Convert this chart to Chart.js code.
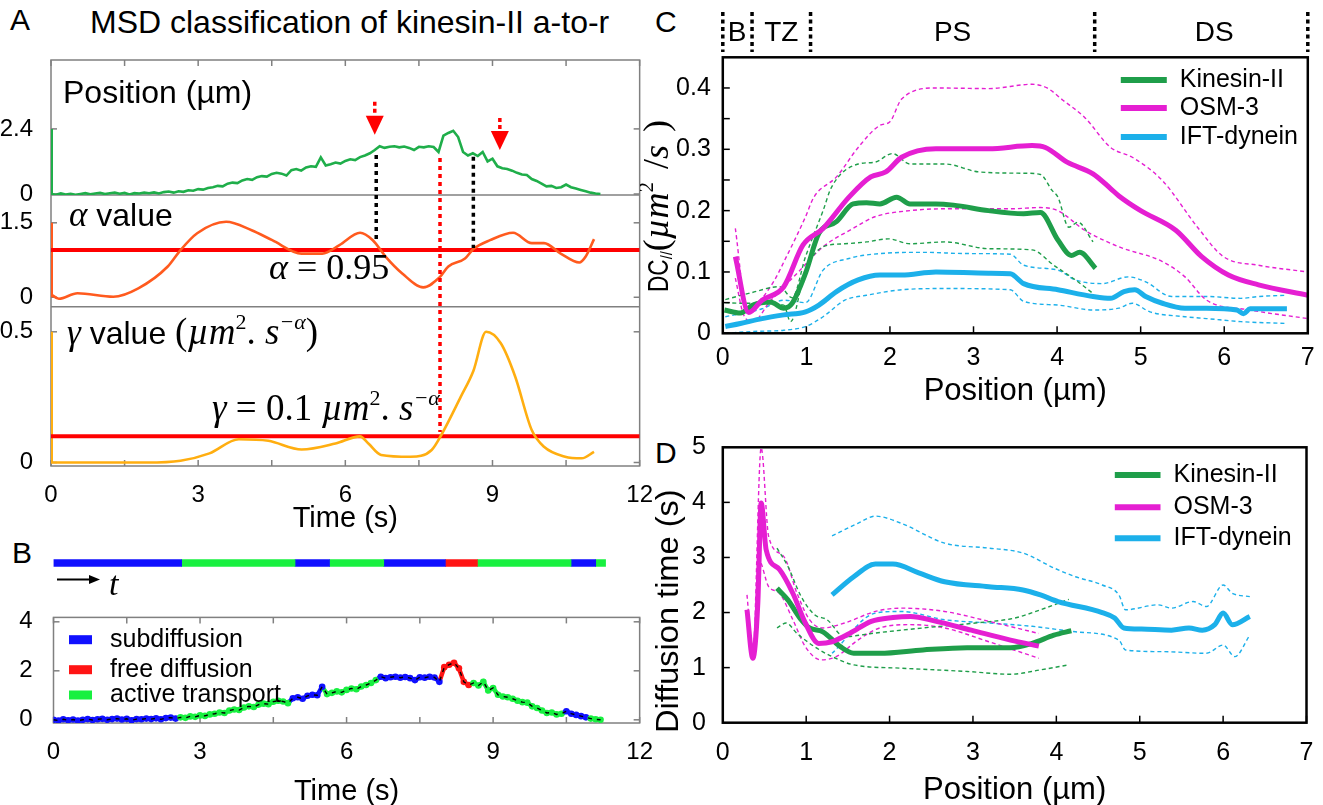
<!DOCTYPE html>
<html>
<head>
<meta charset="utf-8">
<script src="https://cdn.jsdelivr.net/npm/chart.js@4.4.1/dist/chart.umd.min.js"></script>
<style>
  body { margin: 0; background: #fff; width: 1323px; height: 805px; position: relative; overflow: hidden; font-family: "Liberation Sans", Arial, sans-serif; }
  canvas { position: absolute; }
  .lbl { position: absolute; font-size: 30px; line-height: 30px; color: #000; white-space: nowrap; }
</style>
</head>
<body>
<div class="lbl" style="left:10px;top:5px">A</div>
<div class="lbl" style="left:90px;top:6px;font-size:32px;line-height:32px">MSD classification of kinesin-II a-to-r</div>
<div class="lbl" style="left:12px;top:538px">B</div>
<div class="lbl" style="left:655px;top:7px">C</div>
<div class="lbl" style="left:655px;top:438px">D</div>
<canvas id="chartA" width="660" height="540" style="left:0;top:0"></canvas>
<canvas id="chartBBar" width="660" height="50" style="left:0;top:550px"></canvas>
<canvas id="chartB" width="660" height="215" style="left:0;top:590px"></canvas>
<canvas id="chartC" width="683" height="420" style="left:640px;top:0"></canvas>
<canvas id="chartD" width="683" height="385" style="left:640px;top:420px"></canvas>
<script>
const SANS = '"Liberation Sans", Arial, sans-serif';
const SERIF = '"Liberation Serif", "Times New Roman", serif';

// ---------- panel A / B data ----------
// position trace, one sample every 0.1 s from 0 to 11.2 s
const posValues = [
  0.00, -0.03, 0.02, -0.02, 0.01, -0.03, 0.00, 0.03, -0.01, 0.02,
  0.04, 0.00, 0.03, 0.05, 0.01, 0.04, -0.02, 0.03, 0.02, 0.05,
  0.03, 0.06, 0.02, 0.07, 0.09, 0.05, 0.10, 0.08, 0.14, 0.12,
  0.18, 0.16, 0.22, 0.25, 0.30, 0.28, 0.38, 0.42, 0.40, 0.50,
  0.55, 0.52, 0.62, 0.66, 0.64, 0.74, 0.78, 0.75, 0.68, 0.88,
  0.92, 0.86, 0.98, 1.02, 1.00, 1.35, 1.05, 1.10, 1.16, 1.12,
  1.22, 1.28, 1.25, 1.36, 1.42, 1.50, 1.62, 1.76, 1.70, 1.74,
  1.76, 1.72, 1.75, 1.70, 1.62, 1.74, 1.72, 1.76, 1.73, 1.55,
  2.15, 2.25, 2.33, 2.10, 1.55, 1.42, 1.50, 1.40, 1.55, 1.20,
  1.30, 1.02, 0.95, 0.92, 0.86, 0.78, 0.72, 0.70, 0.55, 0.48,
  0.38, 0.28, 0.30, 0.22, 0.25, 0.35, 0.25, 0.20, 0.15, 0.10,
  0.05, 0.02, 0.00
];
const posTimes = posValues.map((v, i) => +(i * 0.1).toFixed(1));

const alphaTimes = [0, 0.16, 0.54, 1.27, 1.78, 2.38, 2.64, 2.98, 3.57, 4.09, 4.51, 5.11, 5.53, 5.88, 6.30, 6.56, 6.82, 7.16, 7.59, 7.93, 8.10, 8.44, 8.61, 8.95, 9.42, 9.80, 10.05, 10.39, 10.77, 10.90, 11.07];
const alphaValues = [0.06, -0.03, 0.08, 0.01, 0.18, 0.62, 0.95, 1.29, 1.52, 1.35, 1.15, 0.88, 0.88, 1.05, 1.30, 1.15, 0.82, 0.48, 0.20, 0.41, 0.62, 0.78, 0.97, 1.15, 1.30, 1.09, 1.09, 0.88, 0.70, 0.82, 1.17];

const gammaTimes = [0, 1.95, 2.64, 3.23, 3.83, 4.43, 5.11, 5.80, 6.30, 6.47, 6.73, 7.33, 7.76, 7.97, 8.35, 8.61, 8.87, 9.17, 9.46, 9.80, 10.05, 10.48, 10.82, 11.07];
const gammaValues = [0.000, 0.000, 0.007, 0.035, 0.089, 0.083, 0.050, 0.073, 0.100, 0.073, 0.029, 0.022, 0.048, 0.110, 0.250, 0.350, 0.500, 0.456, 0.330, 0.124, 0.060, 0.022, 0.016, 0.041];

const alphaThreshold = 0.95;
const gammaThreshold = 0.1;

// annotations in panel A (times in s, values in the units of each sub-plot)
const dropTimes = [6.63, 8.61];
const dropFromPos = [1.44, 1.37];
const dropToAlpha = [1.12, 0.99];
const switchTime = 7.93, switchFromPos = 1.33, switchToGamma = 0.117;
const arrowTimes = [6.6, 9.15];
const arrowTops = [3.4, 2.8];
const arrowTips = [2.18, 1.62];

const timeTicks = [0, 1.5, 3, 4.5, 6, 7.5, 9, 10.5, 12];
const timeLabels = [0, 3, 6, 9, 12];
const posTicksA = [0, 2.4];
const alphaTicks = [0, 1.5];
const gammaTicks = [0, 0.5];
const posTicksB = [0, 2, 4];

// classified segments of the trajectory
const segStart = [0, 2.6, 4.9, 5.6, 6.7, 7.95, 8.6, 10.5, 11.0];
const segEnd = [2.6, 4.9, 5.6, 6.7, 7.95, 8.6, 10.5, 11.0, 11.2];
const segState = ['sub', 'act', 'sub', 'act', 'sub', 'free', 'act', 'sub', 'act'];
const stateKeys = ['sub', 'free', 'act'];
const stateNames = ['subdiffusion', 'free diffusion', 'active transport'];
const stateColors = { sub: '#1010ff', free: '#ff1414', act: '#18f040' };

// ---------- panel C data (DC vs position) ----------
const kinMeanX = [0.02, 0.21, 0.36, 0.57, 0.73, 0.83, 0.99, 1.15, 1.36, 1.56, 1.72, 1.88, 2.08, 2.24, 2.55, 2.76, 3.18, 3.60, 3.80, 4.01, 4.17, 4.27, 4.46];
const kinMeanY = [0.038, 0.033, 0.046, 0.051, 0.041, 0.049, 0.098, 0.163, 0.182, 0.211, 0.213, 0.211, 0.222, 0.211, 0.211, 0.209, 0.200, 0.195, 0.197, 0.152, 0.127, 0.132, 0.106];
const kinHiX = [0.03, 0.31, 0.68, 0.83, 0.99, 1.20, 1.30, 1.62, 1.82, 2.03, 2.24, 2.66, 3.07, 3.60, 3.80, 3.94, 4.01, 4.14, 4.25, 4.43];
const kinHiY = [0.055, 0.065, 0.076, 0.058, 0.125, 0.200, 0.238, 0.276, 0.279, 0.293, 0.276, 0.276, 0.263, 0.261, 0.259, 0.233, 0.222, 0.173, 0.181, 0.149];
const kinLoX = [0.03, 0.21, 0.73, 0.81, 0.99, 1.20, 1.46, 1.72, 1.98, 2.24, 2.66, 3.18, 3.70, 3.96, 4.22, 4.43];
const kinLoY = [0.050, 0.049, 0.046, 0.019, 0.103, 0.141, 0.146, 0.149, 0.154, 0.146, 0.149, 0.138, 0.136, 0.111, 0.087, 0.065];

const osmMeanX = [0.15, 0.31, 0.47, 0.73, 0.96, 1.20, 1.51, 1.77, 1.95, 2.14, 2.55, 3.18, 3.70, 3.86, 4.12, 4.43, 4.64, 4.74, 5.00, 5.42, 5.73, 6.05, 6.41, 7.00];
const osmMeanY = [0.125, 0.034, 0.054, 0.076, 0.144, 0.171, 0.222, 0.255, 0.263, 0.287, 0.301, 0.301, 0.306, 0.303, 0.279, 0.260, 0.236, 0.224, 0.200, 0.168, 0.125, 0.095, 0.079, 0.062];
const osmHiX = [0.15, 0.29, 0.57, 0.78, 0.99, 1.09, 1.36, 1.62, 1.88, 2.00, 2.14, 2.55, 3.18, 3.70, 3.88, 4.07, 4.33, 4.64, 4.90, 5.26, 5.68, 5.99, 6.41, 7.00];
const osmHiY = [0.171, 0.038, 0.076, 0.130, 0.190, 0.222, 0.255, 0.303, 0.339, 0.345, 0.382, 0.400, 0.399, 0.406, 0.400, 0.380, 0.352, 0.303, 0.287, 0.249, 0.173, 0.125, 0.111, 0.100];
const osmLoX = [0.15, 0.25, 0.36, 0.57, 0.89, 1.20, 1.56, 1.82, 2.24, 2.66, 3.44, 3.80, 4.01, 4.33, 4.74, 5.26, 5.53, 5.79, 6.31, 7.00];
const osmLoY = [0.090, 0.030, 0.019, 0.053, 0.098, 0.141, 0.171, 0.190, 0.200, 0.203, 0.203, 0.205, 0.200, 0.168, 0.141, 0.117, 0.092, 0.054, 0.038, 0.024];

const iftMeanX = [0.03, 0.21, 0.47, 0.73, 0.99, 1.15, 1.36, 1.62, 1.88, 2.14, 2.55, 3.18, 3.44, 3.60, 4.01, 4.43, 4.64, 4.80, 4.93, 5.06, 5.26, 5.53, 5.79, 6.15, 6.23, 6.31, 6.75];
const iftMeanY = [0.011, 0.016, 0.024, 0.030, 0.035, 0.046, 0.068, 0.087, 0.095, 0.095, 0.100, 0.098, 0.097, 0.081, 0.071, 0.060, 0.057, 0.068, 0.071, 0.060, 0.049, 0.041, 0.041, 0.038, 0.032, 0.040, 0.040];
const iftHiX = [0.03, 0.47, 0.73, 0.99, 1.20, 1.51, 1.88, 2.40, 2.92, 3.44, 3.60, 4.01, 4.22, 4.54, 4.85, 5.06, 5.37, 5.79, 6.20, 6.41, 6.75];
const iftHiY = [0.027, 0.040, 0.054, 0.050, 0.103, 0.122, 0.130, 0.132, 0.130, 0.129, 0.111, 0.103, 0.087, 0.081, 0.092, 0.084, 0.060, 0.060, 0.057, 0.060, 0.062];
const iftLoX = [0.03, 0.36, 0.73, 0.99, 1.20, 1.46, 1.72, 2.14, 2.66, 3.44, 3.60, 4.01, 4.43, 4.74, 4.90, 5.11, 5.53, 5.79, 6.20, 6.75];
const iftLoY = [0.000, 0.003, 0.005, 0.011, 0.027, 0.054, 0.062, 0.071, 0.073, 0.071, 0.052, 0.046, 0.038, 0.041, 0.049, 0.035, 0.027, 0.024, 0.019, 0.016];

const regionEdges = [0, 0.35, 1.05, 4.45, 7];
const regionNames = ['B', 'TZ', 'PS', 'DS'];
const regionLabelAt = [0.17, 0.7, 2.75, 5.88];
const posTicks = [0, 1, 2, 3, 4, 5, 6, 7];
const dcTicks = [0, 0.05, 0.1, 0.15, 0.2, 0.25, 0.3, 0.35, 0.4];
const dcLabels = [0, 0.1, 0.2, 0.3, 0.4];

// ---------- panel D data (diffusion time vs position) ----------
const kinTauX = [0.65, 0.78, 0.94, 1.04, 1.20, 1.41, 1.57, 1.88, 2.40, 2.93, 3.45, 3.71, 3.97, 4.18];
const kinTauY = [2.44, 2.23, 1.87, 1.72, 1.65, 1.38, 1.26, 1.26, 1.32, 1.36, 1.36, 1.44, 1.59, 1.67];
const kinTauHiX = [0.65, 0.78, 0.94, 1.10, 1.25, 1.46, 1.78, 2.40, 3.03, 3.50, 3.81, 4.15];
const kinTauHiY = [3.17, 2.84, 2.29, 1.96, 1.87, 1.56, 1.62, 1.72, 1.81, 1.90, 2.05, 2.24];
const kinTauLoX = [0.65, 0.76, 0.89, 1.10, 1.31, 1.57, 2.14, 2.93, 3.45, 3.81, 4.15];
const kinTauLoY = [1.72, 1.81, 1.62, 1.38, 1.20, 1.05, 0.99, 0.93, 0.88, 0.96, 1.05];

const osmTauX = [0.29, 0.36, 0.42, 0.46, 0.52, 0.68, 0.84, 0.99, 1.15, 1.31, 1.52, 1.78, 2.04, 2.25, 2.56, 2.98, 3.45, 3.79];
const osmTauY = [2.05, 1.17, 2.17, 3.99, 3.14, 2.78, 2.35, 1.81, 1.44, 1.47, 1.62, 1.84, 1.91, 1.93, 1.84, 1.68, 1.50, 1.39];
const osmTauHiX = [0.29, 0.36, 0.46, 0.55, 0.73, 0.89, 1.04, 1.20, 1.46, 1.83, 2.14, 2.66, 3.19, 3.79];
const osmTauHiY = [2.32, 1.26, 4.99, 3.38, 3.02, 2.35, 1.87, 1.72, 1.81, 2.02, 2.08, 2.02, 1.84, 1.62];
const osmTauLoX = [0.30, 0.36, 0.43, 0.55, 0.68, 0.84, 0.99, 1.18, 1.36, 1.62, 1.88, 2.25, 2.66, 3.19, 3.79];
const osmTauLoY = [1.75, 1.26, 2.96, 2.47, 2.35, 1.87, 1.38, 1.14, 1.20, 1.50, 1.72, 1.78, 1.72, 1.47, 1.17];

const iftTauX = [1.31, 1.57, 1.83, 2.04, 2.35, 2.66, 3.19, 3.60, 3.81, 4.02, 4.55, 4.70, 4.81, 5.02, 5.38, 5.59, 5.75, 5.90, 6.00, 6.11, 6.32];
const iftTauY = [2.32, 2.65, 2.88, 2.88, 2.72, 2.56, 2.47, 2.41, 2.32, 2.20, 2.00, 1.90, 1.72, 1.70, 1.68, 1.72, 1.68, 1.78, 1.99, 1.78, 1.93];
const iftTauHiX = [1.31, 1.62, 1.83, 2.14, 2.66, 3.19, 3.60, 3.97, 4.23, 4.55, 4.75, 4.83, 5.22, 5.38, 5.64, 5.80, 6.00, 6.11, 6.32];
const iftTauHiY = [3.39, 3.62, 3.75, 3.62, 3.26, 3.17, 3.08, 2.81, 2.65, 2.50, 2.32, 2.05, 2.14, 2.08, 2.20, 2.11, 2.50, 2.35, 2.29];
const iftTauLoX = [1.31, 1.83, 2.14, 2.66, 3.19, 3.71, 4.23, 4.75, 4.83, 5.28, 5.80, 6.00, 6.14, 6.32];
const iftTauLoY = [1.26, 1.99, 2.02, 1.87, 1.81, 1.75, 1.65, 1.50, 1.32, 1.29, 1.26, 1.41, 1.20, 1.59];
const tauTicks = [0, 1, 2, 3, 4, 5];

const motorNames = ['Kinesin-II', 'OSM-3', 'IFT-dynein'];
const motorColors = ['#1f9e4a', '#e51fd2', '#1cb0ea'];

const C_POS = '#1fae4a', C_ALPHA = '#ff5a1e', C_GAMMA = '#ffae10';

// ---------- helpers ----------
Chart.defaults.font.family = SANS;
Chart.defaults.color = '#000';
Chart.defaults.animation = false;
Chart.defaults.plugins.legend.display = false;
Chart.defaults.plugins.tooltip.enabled = false;
Chart.defaults.elements.point.radius = 0;

function pts(xs, ys) {
    return xs.map((x, i) => ({ x: x, y: ys[i] }));
}
function fixTicks(values) {
    return s => { s.ticks = values.map(v => ({ value: v })); };
}
function showOnly(labels) {
    return v => labels.includes(v) ? String(v) : '';
}
function seg(ctx, x1, y1, x2, y2) {
    ctx.beginPath(); ctx.moveTo(x1, y1); ctx.lineTo(x2, y2); ctx.stroke();
}
// draws text pieces one after the other (sx squeezes a piece along the text direction, gap adds space after it)
function drawRuns(ctx, x, y, runs) {
    runs.forEach(r => {
        const sx = r.sx || 1;
        ctx.font = r.font;
        ctx.save();
        ctx.translate(x, y + (r.dy || 0));
        ctx.scale(sx, 1);
        ctx.fillText(r.text, 0, 0);
        ctx.restore();
        x += ctx.measureText(r.text).width * sx + (r.gap || 0);
    });
}
// small tick marks pointing into the plot box
function innerTicks(ctx, scale, a, sides, len) {
    scale.ticks.forEach(t => {
        const p = scale.getPixelForValue(t.value);
        if (sides.includes('bottom')) seg(ctx, p, a.bottom, p, a.bottom - len);
        if (sides.includes('top')) seg(ctx, p, a.top, p, a.top + len);
        if (sides.includes('left')) seg(ctx, a.left, p, a.left + len, p);
        if (sides.includes('right')) seg(ctx, a.right, p, a.right - len, p);
    });
}
function yAxisA(weight, stackWeight, min, max, ticks) {
    return {
        type: 'linear', position: 'left', stack: 'A', weight: weight, stackWeight: stackWeight,
        min: min, max: max,
        afterBuildTicks: fixTicks(ticks),
        afterFit: s => { s.width = 51; },
        grid: { display: false }, border: { display: false },
        ticks: { font: { size: 24 }, padding: 10 }
    };
}
function drawLegend(ctx, x1, x2, tx, ys) {
    ctx.font = '25px ' + SANS;
    ctx.textBaseline = 'middle';
    ctx.lineWidth = 6;
    motorNames.forEach((n, i) => {
        ctx.strokeStyle = motorColors[i];
        seg(ctx, x1, ys[i], x2, ys[i]);
        ctx.fillStyle = '#000';
        ctx.fillText(n, tx, ys[i]);
    });
}
function motorSets(series) {
    const sets = [];
    series.forEach((s, i) => {
        sets.push({ data: pts(s[2], s[3]), borderColor: motorColors[i], borderWidth: 1.4, borderDash: [4, 3], cubicInterpolationMode: 'monotone', order: 5 });
        sets.push({ data: pts(s[4], s[5]), borderColor: motorColors[i], borderWidth: 1.4, borderDash: [4, 3], cubicInterpolationMode: 'monotone', order: 5 });
        sets.push({ data: pts(s[0], s[1]), borderColor: motorColors[i], borderWidth: 5, cubicInterpolationMode: 'monotone', order: 3 - i });
    });
    return sets;
}

// ---------- panel A ----------
const panelAPlugin = {
    id: 'panelA',
    beforeDatasetsDraw(chart) {
        const { ctx, chartArea: a, scales } = chart;
        const yP = scales.yPos, yA = scales.yAlpha, yG = scales.yGamma;
        ctx.save();
        ctx.strokeStyle = '#808080';
        ctx.lineWidth = 1.5;
        ctx.strokeRect(a.left, a.top, a.right - a.left, a.bottom - a.top);
        seg(ctx, a.left, yP.bottom, a.right, yP.bottom);
        seg(ctx, a.left, yA.bottom, a.right, yA.bottom);
        innerTicks(ctx, scales.x, a, ['top', 'bottom'], 6);
        [yP, yA, yG].forEach(s => innerTicks(ctx, s, a, ['left', 'right'], 6));
        ctx.lineWidth = 2;
        [[yP, C_POS, posTicksA], [yA, C_ALPHA, alphaTicks], [yG, C_GAMMA, gammaTicks]].forEach(([s, col, tk]) => {
            ctx.strokeStyle = col;
            seg(ctx, a.left + 1, s.getPixelForValue(tk[0]), a.left + 1, s.getPixelForValue(tk[tk.length - 1]));
        });
        ctx.restore();
    },
    afterDatasetsDraw(chart) {
        const { ctx, scales } = chart;
        const x = v => scales.x.getPixelForValue(v);
        const yP = v => scales.yPos.getPixelForValue(v);
        const yA = v => scales.yAlpha.getPixelForValue(v);
        const yG = v => scales.yGamma.getPixelForValue(v);
        ctx.save();
        ctx.lineWidth = 3.5;
        ctx.setLineDash([4, 4]);
        ctx.strokeStyle = '#000';
        dropTimes.forEach((t, i) => seg(ctx, x(t), yP(dropFromPos[i]), x(t), yA(dropToAlpha[i])));
        ctx.strokeStyle = '#ff0000';
        seg(ctx, x(switchTime), yP(switchFromPos), x(switchTime), yG(switchToGamma));
        arrowTimes.forEach((t, i) => {
            const px = x(t), tip = yP(arrowTips[i]);
            ctx.setLineDash([4, 3]);
            ctx.strokeStyle = '#ff0000';
            seg(ctx, px, yP(arrowTops[i]), px, tip - 19);
            ctx.setLineDash([]);
            ctx.fillStyle = '#ff0000';
            ctx.beginPath();
            ctx.moveTo(px - 9, tip - 19); ctx.lineTo(px + 9, tip - 19); ctx.lineTo(px, tip);
            ctx.closePath(); ctx.fill();
        });
        // texts
        ctx.fillStyle = '#000';
        ctx.textBaseline = 'alphabetic';
        const it = s => 'italic ' + s + 'px ' + SERIF;
        const rm = s => s + 'px ' + SERIF;
        drawRuns(ctx, 63, 103, [{ text: 'Position (µm)', font: '32px ' + SANS }]);
        drawRuns(ctx, 69, 226, [{ text: 'α', font: it(35) }, { text: ' value', font: '32px ' + SANS }]);
        drawRuns(ctx, 67, 344, [
            { text: 'γ', font: it(35) }, { text: ' value ', font: '32px ' + SANS },
            { text: '(', font: rm(37) }, { text: 'µm', font: it(37) }, { text: '2', font: rm(22), dy: -15 },
            { text: '. ', font: rm(37) }, { text: 's', font: it(37) }, { text: '−α', font: it(22), dy: -15 },
            { text: ')', font: rm(37) }
        ]);
        drawRuns(ctx, 269, 279, [{ text: 'α', font: it(36) }, { text: ' = 0.95', font: rm(36) }]);
        drawRuns(ctx, 212, 420, [
            { text: 'γ', font: it(37) }, { text: ' = 0.1 ', font: rm(37) }, { text: 'µm', font: it(37) },
            { text: '2', font: rm(22), dy: -15 }, { text: '. ', font: rm(37) }, { text: 's', font: it(37) },
            { text: '−α', font: it(22), dy: -15 }
        ]);
        ctx.restore();
    }
};

new Chart(document.getElementById('chartA'), {
    type: 'line',
    data: {
        datasets: [
            { data: pts(posTimes, posValues), yAxisID: 'yPos', borderColor: C_POS, borderWidth: 2.6 },
            { data: pts(alphaTimes, alphaValues), yAxisID: 'yAlpha', borderColor: C_ALPHA, borderWidth: 2.6, cubicInterpolationMode: 'monotone' },
            { data: pts(gammaTimes, gammaValues), yAxisID: 'yGamma', borderColor: C_GAMMA, borderWidth: 2.6, cubicInterpolationMode: 'monotone' },
            { data: [{ x: 0, y: alphaThreshold }, { x: 12, y: alphaThreshold }], yAxisID: 'yAlpha', borderColor: '#ff0000', borderWidth: 4 },
            { data: [{ x: 0, y: gammaThreshold }, { x: 12, y: gammaThreshold }], yAxisID: 'yGamma', borderColor: '#ff0000', borderWidth: 4 }
        ]
    },
    options: {
        responsive: false, devicePixelRatio: 1,
        layout: { autoPadding: false, padding: { top: 60, right: 17, bottom: 0, left: 0 } },
        scales: {
            x: {
                type: 'linear', min: 0, max: 12,
                afterBuildTicks: fixTicks(timeTicks),
                afterFit: s => { s.height = 74; },
                grid: { display: false }, border: { display: false },
                ticks: { font: { size: 24 }, padding: 7, autoSkip: false, maxRotation: 0, callback: showOnly(timeLabels) },
                title: { display: true, text: 'Time (s)', font: { size: 29 }, padding: { top: 0, bottom: 4 } }
            },
            yPos: yAxisA(3, 135, -0.037, 4.94, posTicksA),
            yAlpha: yAxisA(2, 111.7, -0.19, 2.06, alphaTicks),
            yGamma: yAxisA(1, 159.3, -0.0134, 0.596, gammaTicks)
        }
    },
    plugins: [panelAPlugin]
});

// ---------- panel B: segment bar ----------
const barPlugin = {
    id: 'barExtras',
    afterDraw(chart) {
        const ctx = chart.ctx;
        ctx.save();
        ctx.strokeStyle = '#000'; ctx.fillStyle = '#000'; ctx.lineWidth = 2;
        seg(ctx, 57, 29.5, 92, 29.5);
        ctx.beginPath(); ctx.moveTo(100, 29.5); ctx.lineTo(89, 25); ctx.lineTo(89, 34); ctx.closePath(); ctx.fill();
        ctx.font = 'italic 34px ' + SERIF;
        ctx.textBaseline = 'alphabetic';
        ctx.fillText('t', 109, 45);
        ctx.restore();
    }
};
new Chart(document.getElementById('chartBBar'), {
    type: 'bar',
    data: {
        labels: ['track'],
        datasets: segStart.map((s, i) => ({
            data: [[s, segEnd[i]]],
            backgroundColor: stateColors[segState[i]],
            barThickness: 7, grouped: false, borderWidth: 0, borderSkipped: false
        }))
    },
    options: {
        indexAxis: 'y', responsive: false, devicePixelRatio: 1,
        layout: { autoPadding: false, padding: { left: 53.5, right: 15, top: 0, bottom: 24 } },
        scales: { x: { type: 'linear', min: 0, max: 12, display: false }, y: { display: false } }
    },
    plugins: [barPlugin]
});

// ---------- panel B: classified trajectory ----------
function stateAt(t) {
    for (let i = 0; i < segStart.length; i++) {
        if (t >= segStart[i] && t < segEnd[i]) return segState[i];
    }
    return segState[segState.length - 1];
}
const posColors = posTimes.map(t => stateColors[stateAt(t)]);

const panelBPlugin = {
    id: 'panelB',
    beforeDatasetsDraw(chart) {
        const { ctx, chartArea: a, scales } = chart;
        ctx.save();
        ctx.strokeStyle = '#808080'; ctx.lineWidth = 1.5;
        ctx.strokeRect(a.left, a.top, a.right - a.left, a.bottom - a.top);
        innerTicks(ctx, scales.x, a, ['top', 'bottom'], 6);
        innerTicks(ctx, scales.y, a, ['left', 'right'], 6);
        ctx.restore();
    },
    afterDraw(chart) {
        const { ctx, chartArea: a } = chart;
        const rowY = [22.3, 52.3, 77.6];
        ctx.save();
        ctx.font = '25px ' + SANS;
        ctx.textBaseline = 'middle';
        stateKeys.forEach((k, i) => {
            ctx.fillStyle = stateColors[k];
            ctx.fillRect(a.left + 15.5, a.top + rowY[i] - 4.5, 23, 9);
            ctx.fillStyle = '#000';
            ctx.fillText(stateNames[i], a.left + 56.5, a.top + rowY[i]);
        });
        ctx.restore();
    }
};
new Chart(document.getElementById('chartB'), {
    type: 'line',
    data: {
        datasets: [
            { data: pts(posTimes, posValues), borderColor: '#000', borderWidth: 1.4, borderDash: [4, 5], order: 0 },
            {
                data: pts(posTimes, posValues), borderWidth: 4.5, pointRadius: 3.3, pointBorderWidth: 0,
                pointBackgroundColor: posColors, segment: { borderColor: c => posColors[c.p1DataIndex] }, order: 1
            }
        ]
    },
    options: {
        responsive: false, devicePixelRatio: 1,
        layout: { autoPadding: false, padding: { top: 11.7, right: 15, bottom: 0, left: 0 } },
        scales: {
            x: {
                type: 'linear', min: 0, max: 12,
                afterBuildTicks: fixTicks(timeTicks),
                afterFit: s => { s.height = 82; },
                grid: { display: false }, border: { display: false },
                ticks: { font: { size: 24 }, padding: 7, autoSkip: false, maxRotation: 0, callback: showOnly(timeLabels) },
                title: { display: true, text: 'Time (s)', font: { size: 29 }, padding: { top: 0, bottom: -4 } }
            },
            y: {
                type: 'linear', min: -0.13, max: 4.18,
                afterBuildTicks: fixTicks(posTicksB),
                afterFit: s => { s.width = 53.5; },
                grid: { display: false }, border: { display: false },
                ticks: { font: { size: 24 }, padding: 13 }
            }
        }
    },
    plugins: [panelBPlugin]
});

// ---------- panel C ----------
const panelCPlugin = {
    id: 'panelC',
    afterDatasetsDraw(chart) {
        const { ctx, chartArea: a, scales } = chart;
        ctx.save();
        ctx.strokeStyle = '#000'; ctx.lineWidth = 2.5;
        ctx.strokeRect(a.left, a.top, a.right - a.left, a.bottom - a.top);
        ctx.lineWidth = 1.5;
        innerTicks(ctx, scales.y, a, ['left'], 7);
        innerTicks(ctx, scales.x, a, ['bottom'], 7);
        ctx.restore();
    },
    afterDraw(chart) {
        const { ctx, chartArea: a, scales } = chart;
        ctx.save();
        // ciliary regions above the plot
        ctx.strokeStyle = '#000'; ctx.lineWidth = 3.5; ctx.setLineDash([4, 3.5]);
        regionEdges.forEach(e => {
            const px = scales.x.getPixelForValue(e);
            seg(ctx, px, 12, px, 52);
        });
        ctx.setLineDash([]);
        ctx.fillStyle = '#000';
        ctx.font = '28px ' + SANS;
        ctx.textAlign = 'center'; ctx.textBaseline = 'middle';
        regionNames.forEach((n, i) => {
            ctx.fillText(n, scales.x.getPixelForValue(regionLabelAt[i]), 33);
        });
        ctx.textAlign = 'left';
        drawLegend(ctx, a.right - 187, a.right - 141, a.right - 128, [a.top + 22.7, a.top + 50.7, a.top + 79.7]);
        // y title, read from bottom to top
        ctx.translate(28, 292);
        ctx.rotate(-Math.PI / 2);
        ctx.fillStyle = '#000';
        ctx.textBaseline = 'alphabetic';
        drawRuns(ctx, 0, 0, [
            { text: 'DC', font: '29px ' + SANS, sx: 0.78 }, { text: '//', font: '16px ' + SANS, dy: 4, sx: 0.9 },
            { text: '(', font: '36px ' + SERIF }, { text: 'µm', font: 'italic 36px ' + SERIF },
            { text: '2', font: '21px ' + SERIF, dy: -15, gap: 13 }, { text: '/', font: '36px ' + SERIF },
            { text: 's', font: 'italic 36px ' + SERIF, gap: 13 }, { text: ')', font: '36px ' + SERIF }
        ]);
        ctx.restore();
    }
};
new Chart(document.getElementById('chartC'), {
    type: 'line',
    data: {
        datasets: motorSets([
            [kinMeanX, kinMeanY, kinHiX, kinHiY, kinLoX, kinLoY],
            [osmMeanX, osmMeanY, osmHiX, osmHiY, osmLoX, osmLoY],
            [iftMeanX, iftMeanY, iftHiX, iftHiY, iftLoX, iftLoY]
        ])
    },
    options: {
        responsive: false, devicePixelRatio: 1,
        layout: { autoPadding: false, padding: { top: 57.3, right: 15.2, bottom: 0, left: 0 } },
        scales: {
            x: {
                type: 'linear', min: 0, max: 7,
                afterBuildTicks: fixTicks(posTicks),
                afterFit: s => { s.height = 86.7; },
                grid: { display: false }, border: { display: false },
                ticks: { font: { size: 25 }, padding: 2, autoSkip: false, maxRotation: 0 },
                title: { display: true, text: 'Position (µm)', font: { size: 31 }, padding: { top: 0, bottom: 10 } }
            },
            y: {
                type: 'linear', min: 0, max: 0.45,
                afterBuildTicks: fixTicks(dcTicks),
                afterFit: s => { s.width = 82.8; },
                grid: { display: false }, border: { display: false },
                ticks: { font: { size: 25 }, padding: 4, autoSkip: false, callback: showOnly(dcLabels) }
            }
        }
    },
    plugins: [panelCPlugin]
});

// ---------- panel D ----------
const panelDPlugin = {
    id: 'panelD',
    afterDatasetsDraw(chart) {
        const { ctx, chartArea: a, scales } = chart;
        ctx.save();
        ctx.strokeStyle = '#000'; ctx.lineWidth = 2.5;
        ctx.strokeRect(a.left, a.top, a.right - a.left, a.bottom - a.top);
        ctx.lineWidth = 1.5;
        innerTicks(ctx, scales.x, a, ['bottom'], 7);
        innerTicks(ctx, scales.y, a, ['left'], 7);
        ctx.restore();
    },
    afterDraw(chart) {
        const { ctx, chartArea: a } = chart;
        ctx.save();
        drawLegend(ctx, a.right - 191.7, a.right - 146, a.right - 133, [a.top + 27.7, a.top + 60, a.top + 91]);
        // y title, read from bottom to top
        ctx.translate(38, 313);
        ctx.rotate(-Math.PI / 2);
        ctx.fillStyle = '#000';
        ctx.textBaseline = 'alphabetic';
        drawRuns(ctx, 0, 0, [{ text: 'Diffusion time (s)', font: '31px ' + SANS, sx: 1.05 }]);
        ctx.restore();
    }
};
new Chart(document.getElementById('chartD'), {
    type: 'line',
    data: {
        datasets: motorSets([
            [kinTauX, kinTauY, kinTauHiX, kinTauHiY, kinTauLoX, kinTauLoY],
            [osmTauX, osmTauY, osmTauHiX, osmTauHiY, osmTauLoX, osmTauLoY],
            [iftTauX, iftTauY, iftTauHiX, iftTauHiY, iftTauLoX, iftTauLoY]
        ])
    },
    options: {
        responsive: false, devicePixelRatio: 1,
        layout: { autoPadding: false, padding: { top: 27.3, right: 16.5, bottom: 0, left: 0 } },
        scales: {
            x: {
                type: 'linear', min: 0, max: 7,
                afterBuildTicks: fixTicks(posTicks),
                afterFit: s => { s.height = 82.3; },
                grid: { display: false }, border: { display: false },
                ticks: { font: { size: 25 }, padding: 7, autoSkip: false, maxRotation: 0 },
                title: { display: true, text: 'Position (µm)', font: { size: 31 }, padding: { top: 0, bottom: -4 } }
            },
            y: {
                type: 'linear', min: 0, max: 5,
                afterBuildTicks: fixTicks(tauTicks),
                afterFit: s => { s.width = 82.8; },
                grid: { display: false }, border: { display: false },
                ticks: { font: { size: 25 }, padding: 9 }
            }
        }
    },
    plugins: [panelDPlugin]
});
</script>
</body>
</html>
